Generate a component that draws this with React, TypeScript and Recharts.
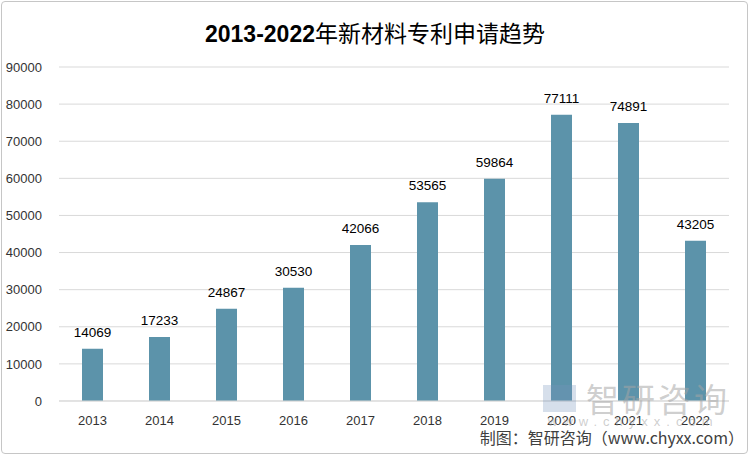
import React from 'react'
import { BarChart, Bar, XAxis, YAxis, CartesianGrid, LabelList } from 'recharts'

const years = ['2013', '2014', '2015', '2016', '2017', '2018', '2019', '2020', '2021', '2022']
const patents = [14069, 17233, 24867, 30530, 42066, 53565, 59864, 77111, 74891, 43205]
const yTicks = [0, 10000, 20000, 30000, 40000, 50000, 60000, 70000, 80000, 90000]

const data = years.map((year, i) => ({ year, value: patents[i] }))

const numFont = '"Liberation Sans", Arial, sans-serif'
const cjkFont = '"Noto Sans CJK SC", "Noto Sans", sans-serif'

export default function App() {
  return (
    <div
      style={{
        position: 'fixed',
        left: 0,
        top: 0,
        width: 750,
        height: 455,
        background: '#fff',
        overflow: 'hidden',
      }}
    >
      <div
        style={{
          position: 'absolute',
          left: 1,
          top: 1,
          width: 745,
          height: 451,
          border: '1px solid #c6c6c6',
          borderRadius: 4,
        }}
      />
      <div
        style={{
          position: 'absolute',
          left: 0,
          top: 14,
          width: 750,
          textAlign: 'center',
          fontSize: 23,
          lineHeight: '36px',
          color: '#000',
        }}
      >
        <span style={{ fontFamily: numFont, fontWeight: 'bold' }}>2013-2022</span>
        <span style={{ fontFamily: cjkFont }}>年新材料专利申请趋势</span>
      </div>
      <BarChart
        width={750}
        height={455}
        data={data}
        margin={{ top: 67, right: 21, left: 0, bottom: 24 }}
        style={{ position: 'absolute', left: 0, top: 0 }}
      >
        <CartesianGrid vertical={false} stroke="#d9d9d9" />
        <XAxis
          dataKey="year"
          height={30}
          axisLine={{ stroke: '#d9d9d9' }}
          tickLine={false}
          tickSize={0}
          tickMargin={15}
          tick={{ fontSize: 13, fill: '#333', fontFamily: numFont }}
        />
        <YAxis
          width={59}
          domain={[0, 90000]}
          ticks={yTicks}
          axisLine={false}
          tickLine={false}
          tickSize={0}
          tickMargin={17}
          tick={{ fontSize: 13, fill: '#333', fontFamily: numFont }}
        />
        <Bar dataKey="value" fill="#5c93aa" barSize={21} isAnimationActive={false}>
          <LabelList
            dataKey="value"
            position="top"
            offset={12}
            style={{ fontSize: 13.5, fill: '#000', fontFamily: numFont }}
          />
        </Bar>
      </BarChart>
      {/* watermark */}
      <div
        style={{
          position: 'absolute',
          left: 543,
          top: 385,
          width: 33,
          height: 27,
          background: 'rgba(120,150,190,0.3)',
        }}
      />
      <div
        style={{
          position: 'absolute',
          left: 586,
          top: 378,
          fontFamily: cjkFont,
          fontSize: 33,
          lineHeight: '40px',
          letterSpacing: 3,
          color: 'rgba(165,165,165,0.55)',
        }}
      >
        智研咨询
      </div>
      <div
        style={{
          position: 'absolute',
          left: 548,
          top: 414,
          fontFamily: numFont,
          fontSize: 13,
          lineHeight: '16px',
          letterSpacing: 6,
          color: 'rgba(165,165,165,0.55)',
        }}
      >
        www.chyxx.com
      </div>
      <div
        style={{
          position: 'absolute',
          right: 6,
          top: 426,
          fontFamily: cjkFont,
          fontSize: 16,
          lineHeight: '22px',
          color: '#404040',
        }}
      >
        制图：智研咨询（www.chyxx.com）
      </div>
    </div>
  )
}
